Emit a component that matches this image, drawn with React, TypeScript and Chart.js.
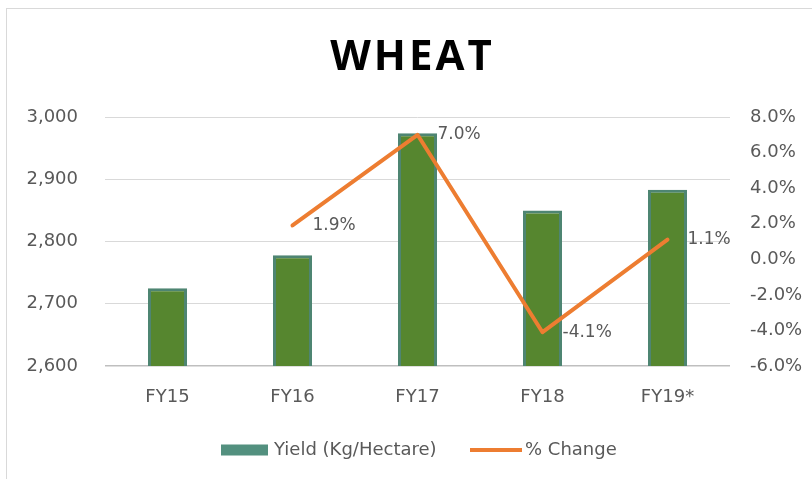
import { useEffect, useRef } from 'react';
import { Chart, registerables } from 'chart.js';

Chart.register(...registerables);

const categories = ['FY15', 'FY16', 'FY17', 'FY18', 'FY19*'];
const yieldValues = [2725, 2778, 2974, 2850, 2883];
const changeValues: (number | null)[] = [null, 1.9, 7.0, -4.1, 1.1];
const changeLabels = ['', '1.9%', '7.0%', '-4.1%', '1.1%'];
const titleText = 'WHEAT';
const yieldLabel = 'Yield (Kg/Hectare)';
const changeLabel = '% Change';
const leftMin = 2600;
const leftMax = 3000;
const leftStep = 100;
const rightMin = -6;
const rightMax = 8;
const rightStep = 2;

const FONT = '"DejaVu Sans", sans-serif';
const TEXT = '#595959';
const ORANGE = '#ED7D31';
const BAR_FILL = '#56862F';
const BAR_BORDER = '#4E8572';

export default function App() {
  const ref = useRef<HTMLCanvasElement>(null);

  useEffect(() => {
    if (!ref.current) return;
    const decor = {
      id: 'decor',
      afterDatasetsDraw(chart: any) {
        const ctx = chart.ctx;
        const meta = chart.getDatasetMeta(1);
        ctx.save();
        ctx.font = `17px ${FONT}`;
        ctx.fillStyle = TEXT;
        ctx.textAlign = 'left';
        ctx.textBaseline = 'middle';
        meta.data.forEach((pt: any, i: number) => {
          if (changeValues[i] == null) return;
          ctx.fillText(changeLabels[i], pt.x + 20, pt.y);
        });
        ctx.restore();
      },
      afterDraw(chart: any) {
        const ctx = chart.ctx;
        ctx.save();
        // title
        ctx.font = `bold 42px "Open Sans", ${FONT}`;
        (ctx as any).letterSpacing = '3px';
        ctx.fillStyle = '#000000';
        ctx.textAlign = 'center';
        ctx.textBaseline = 'middle';
        ctx.fillText(titleText, chart.width / 2 + 3, 49);
        (ctx as any).letterSpacing = '0px';
        // legend
        const y = 441;
        ctx.fillStyle = '#53907F';
        ctx.fillRect(214, y - 5.5, 47, 11);
        ctx.font = `18px ${FONT}`;
        ctx.textAlign = 'left';
        ctx.fillStyle = TEXT;
        ctx.fillText(yieldLabel, 267, y);
        ctx.strokeStyle = ORANGE;
        ctx.lineWidth = 4;
        ctx.beginPath();
        ctx.moveTo(463, y);
        ctx.lineTo(515, y);
        ctx.stroke();
        ctx.fillText(changeLabel, 518, y);
        ctx.restore();
      },
    };

    const chart = new Chart(ref.current, {
      type: 'bar',
      data: {
        labels: categories,
        datasets: [
          {
            type: 'bar',
            label: yieldLabel,
            data: yieldValues,
            backgroundColor: BAR_FILL,
            borderColor: BAR_BORDER,
            borderWidth: 3,
            barPercentage: 0.312,
            categoryPercentage: 1,
            yAxisID: 'y',
            order: 2,
          },
          {
            type: 'line',
            label: changeLabel,
            data: changeValues,
            borderColor: ORANGE,
            backgroundColor: ORANGE,
            borderWidth: 4,
            pointRadius: 0,
            borderJoinStyle: 'round',
            borderCapStyle: 'round',
            tension: 0,
            yAxisID: 'y1',
            order: 1,
          } as any,
        ],
      },
      options: {
        responsive: false,
        animation: false,
        layout: { padding: { top: 108, left: 0, right: 0, bottom: 0 } },
        plugins: {
          legend: { display: false },
          title: { display: false },
          tooltip: { enabled: false },
        },
        scales: {
          x: {
            grid: { display: false, drawTicks: false },
            border: { display: false },
            ticks: { color: TEXT, font: { family: FONT, size: 18 }, padding: 21 },
            afterFit: (s: any) => { s.height = 113; },
          },
          y: {
            position: 'left',
            min: leftMin,
            max: leftMax,
            ticks: {
              stepSize: leftStep,
              color: TEXT,
              font: { family: FONT, size: 18 },
              padding: 27,
              callback: (v: any) => Number(v).toLocaleString('en-US'),
            },
            grid: {
              drawTicks: false,
              color: (c: any) => (c.tick && c.tick.value === leftMin ? '#BFBFBF' : '#D9D9D9'),
              lineWidth: (c: any) => (c.tick && c.tick.value === leftMin ? 1.5 : 1),
            },
            border: { display: false },
            afterFit: (s: any) => { s.width = 98; },
          },
          y1: {
            position: 'right',
            min: rightMin,
            max: rightMax,
            ticks: {
              stepSize: rightStep,
              color: TEXT,
              font: { family: FONT, size: 18 },
              padding: 20,
              callback: (v: any) => Number(v).toFixed(1) + '%',
            },
            grid: { display: false, drawTicks: false },
            border: { display: false },
            afterFit: (s: any) => { s.width = 82; },
          },
        },
      },
      plugins: [decor],
    });
    return () => chart.destroy();
  }, []);

  return (
    <div
      style={{
        position: 'absolute',
        left: 6,
        top: 8,
        width: 806,
        height: 471,
        borderLeft: '1px solid #D9D9D9',
        borderTop: '1px solid #D9D9D9',
        boxSizing: 'border-box',
        background: '#FFFFFF',
      }}
    >
      <canvas ref={ref} width={805} height={470} style={{ display: 'block', width: 805, height: 470 }} />
    </div>
  );
}
